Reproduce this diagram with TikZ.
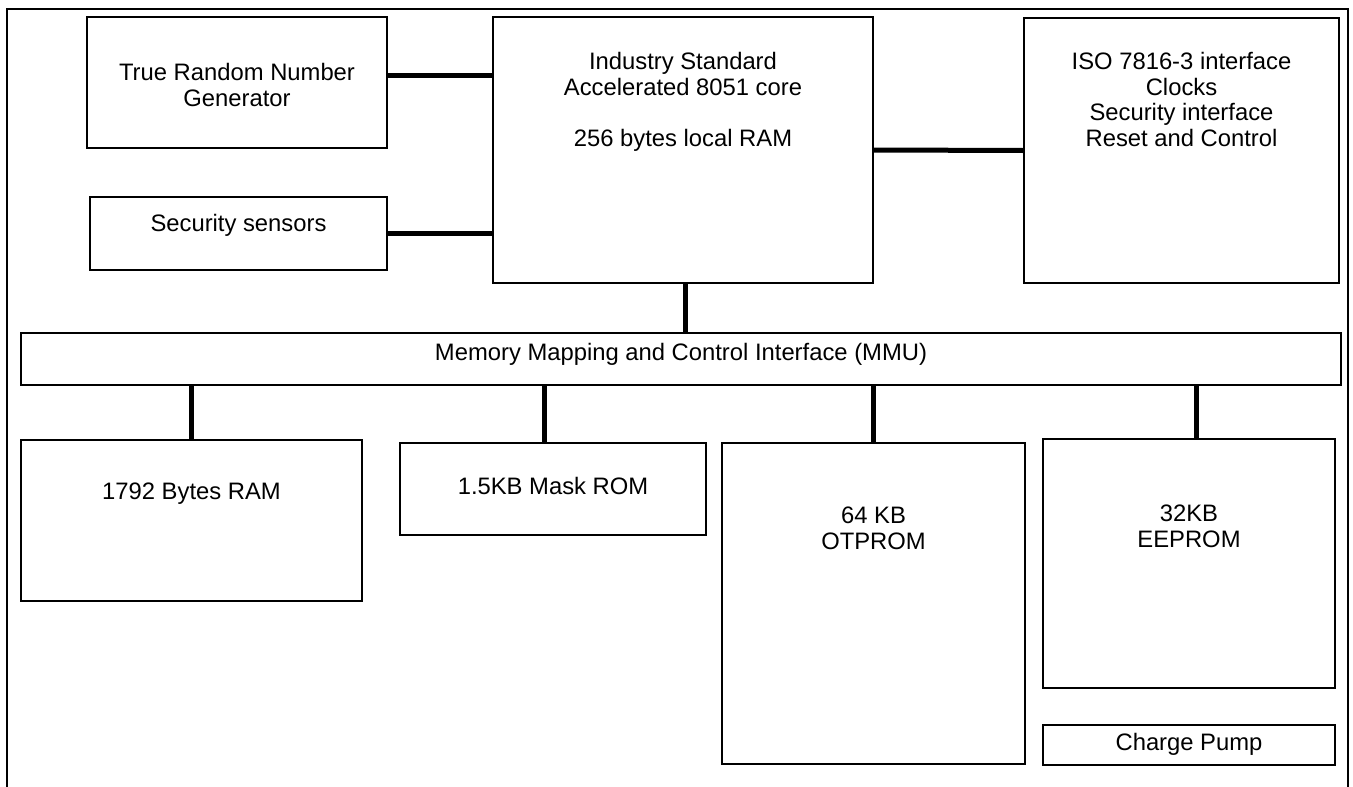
\documentclass[tikz,border=0pt]{standalone}
\usepackage{fontspec}
\setmainfont{Liberation Sans}
\usetikzlibrary{positioning, calc}

\begin{document}
\begin{tikzpicture}[
 x=1pt, y=-1pt,
 block/.style={draw, rectangle, line width=2pt, inner sep=0pt},
 blocktext/.style={align=center, inner sep=0pt},
 link/.style={-, line width=5pt},
 frame/.style={line width=2.5pt},
 font=\fontsize{23.8}{25.5}\selectfont
 ]
  \useasboundingbox (0,0) rectangle (1353,787);

  % Outer frame, open at the bottom
  \draw[frame] (7,787) -- (7,9) -- (1348,9) -- (1348,787);

  % Top row
  \node[block, minimum width=300pt, minimum height=131pt] (trng) at (237,82.5) {};
  \node[blocktext] (trng_text) at ([yshift=-2.5pt]trng.center) {True Random Number\\Generator};
  \node[block, minimum width=297pt, minimum height=73pt] (sensors) at (238.5,233.5) {};
  \node[blocktext] (sensors_text) at ([yshift=8pt]sensors.center) {Security sensors};
  \node[block, minimum width=380pt, minimum height=266pt] (core) at (683,150) {};
  \node[blocktext, below=36.5pt of core.north] (core_text) {Industry Standard\\Accelerated 8051 core\\[25.5pt]256 bytes local RAM};
  \node[block, minimum width=315pt, minimum height=265pt] (iso_if) at (1181.5,150.5) {};
  \node[blocktext, below=35.5pt of iso_if.north] (iso_text) {ISO 7816-3 interface\\Clocks\\Security interface\\Reset and Control};

  % Memory mapping bar
  \node[block, minimum width=1320pt, minimum height=52pt] (mmu) at (681,359) {};
  \node[blocktext] (mmu_text) at ([yshift=5pt]mmu.center) {Memory Mapping and Control Interface (MMU)};

  % Memories
  \node[block, minimum width=341pt, minimum height=161pt] (ram) at (191.5,520.5) {};
  \node[blocktext, below=44pt of ram.north] (ram_text) {1792 Bytes RAM};
  \node[block, minimum width=306pt, minimum height=92pt] (mask_rom) at (553,489) {};
  \node[blocktext] (mask_rom_text) at ([yshift=3.5pt]mask_rom.center) {1.5KB Mask ROM};
  \node[block, minimum width=303pt, minimum height=321pt] (otprom) at (873.5,603.5) {};
  \node[blocktext, below=65pt of otprom.north] (otprom_text) {64 KB\\OTPROM};
  \node[block, minimum width=292pt, minimum height=249pt] (eeprom) at (1189,563.5) {};
  \node[blocktext, below=67pt of eeprom.north] (eeprom_text) {32KB\\EEPROM};
  \node[block, minimum width=292pt, minimum height=40pt] (charge_pump) at (1189,745) {};
  \node[blocktext] (charge_pump_text) at ([yshift=1pt]charge_pump.center) {Charge Pump};

  % Links to the core
  \draw[link] ([yshift=7.5pt]trng.east) -- ([yshift=7.5pt]trng.east -| core.west);
  \draw[link] (sensors.east) -- (sensors.east -| core.west);
  \draw[link] (core.east) -- (iso_if.west);
  \draw[link] ([xshift=2pt]core.south) -- ([xshift=2pt]core.south |- mmu.north);

  % Links from the MMU
  \draw[link] (mmu.south -| ram.north) -- (ram.north);
  \draw[link] ([xshift=-9pt]mmu.south -| mask_rom.north) -- ([xshift=-9pt]mask_rom.north);
  \draw[link] (mmu.south -| otprom.north) -- (otprom.north);
  \draw[link] ([xshift=7pt]mmu.south -| eeprom.north) -- ([xshift=7pt]eeprom.north);

\end{tikzpicture}
\end{document}
